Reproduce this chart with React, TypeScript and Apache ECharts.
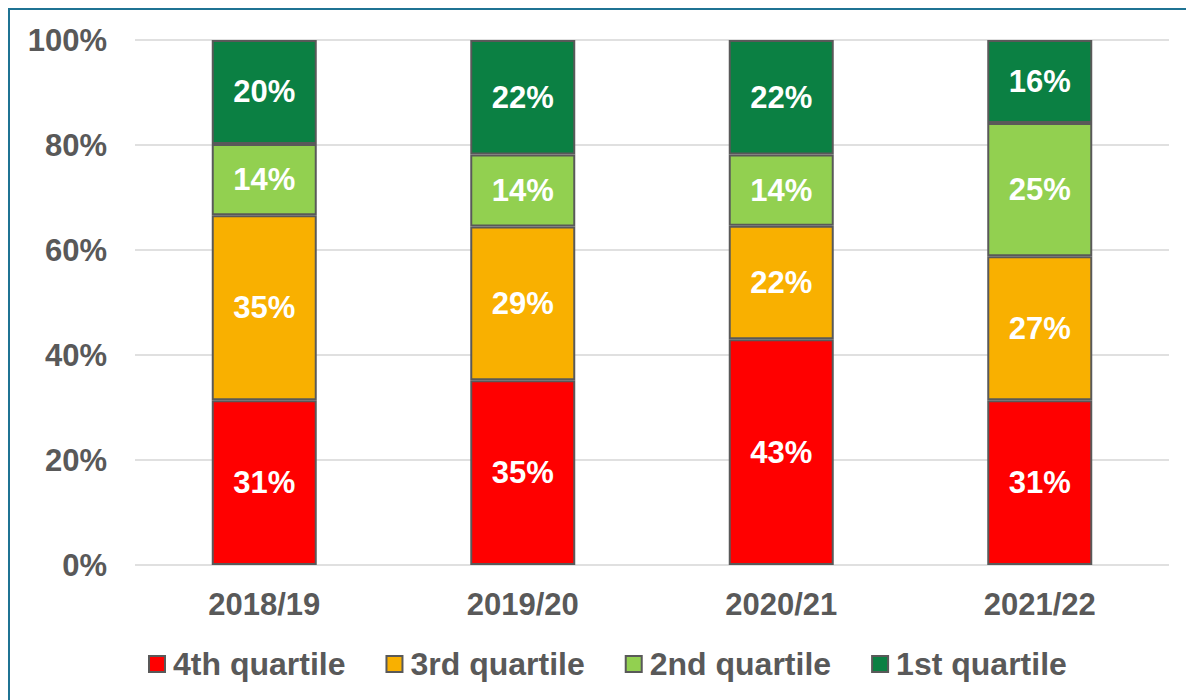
import React, { useEffect, useRef } from "react";
import * as echarts from "echarts";

const categories = ["2018/19", "2019/20", "2020/21", "2021/22"];
const fourthQuartile = [31.4, 35.2, 43.0, 31.4];
const thirdQuartile = [35.2, 29.3, 21.6, 27.4];
const secondQuartile = [13.6, 13.7, 13.6, 25.4];
const firstQuartile = [19.8, 21.8, 21.8, 15.8];
const seriesNames = ["4th quartile", "3rd quartile", "2nd quartile", "1st quartile"];
const seriesColors = ["#FF0000", "#F9B000", "#92D050", "#0B8043"];

const FONT = "'Liberation Sans', Arial, sans-serif";

export default function App() {
  const ref = useRef<HTMLDivElement>(null);
  useEffect(() => {
    if (!ref.current) return;
    const chart = echarts.init(ref.current, null, { renderer: "svg" });
    const data = [fourthQuartile, thirdQuartile, secondQuartile, firstQuartile];
    chart.setOption({
      animation: false,
      backgroundColor: "#FFFFFF",
      graphic: [
        {
          type: "rect",
          shape: { x: 9, y: 9, width: 1200, height: 720 },
          style: { fill: "none", stroke: "#1F7393", lineWidth: 2 },
          silent: true,
        },
      ],
      grid: { left: 135, right: 17, top: 40, bottom: 135, containLabel: false },
      legend: {
        top: 643,
        left: 143,
        icon: "rect",
        itemWidth: 16,
        itemHeight: 16,
        itemGap: 40,
        textStyle: { fontFamily: FONT, fontSize: 32, fontWeight: "bold", color: "#595959", padding: [0, 0, 0, 3] },
        data: seriesNames,
      },
      xAxis: {
        type: "category",
        data: categories,
        axisLine: { show: false },
        axisTick: { show: false },
        axisLabel: { fontFamily: FONT, fontSize: 31, fontWeight: "bold", color: "#595959", margin: 24 },
      },
      yAxis: {
        type: "value",
        min: 0,
        max: 100,
        interval: 20,
        axisLine: { show: false },
        axisTick: { show: false },
        splitLine: { lineStyle: { color: "#E0E0E0", width: 2 } },
        axisLabel: {
          fontFamily: FONT,
          fontSize: 31,
          fontWeight: "bold",
          color: "#595959",
          margin: 28,
          formatter: "{value}%",
        },
      },
      series: seriesNames.map((name, i) => ({
        name,
        type: "bar",
        stack: "total",
        barWidth: 105,
        data: data[i],
        itemStyle: { color: seriesColors[i], borderColor: "#595959", borderWidth: 2 },
        label: {
          show: true,
          position: "inside",
          fontFamily: FONT,
          fontSize: 31,
          fontWeight: "bold",
          color: "#FFFFFF",
          formatter: (p: any) => Math.round(p.value) + "%",
        },
      })),
    });
    return () => chart.dispose();
  }, []);
  return (
    <div style={{ position: "fixed", left: 0, top: 0, width: 1186, height: 700, overflow: "hidden" }}>
      <div ref={ref} style={{ width: 1186, height: 700 }} />
    </div>
  );
}
